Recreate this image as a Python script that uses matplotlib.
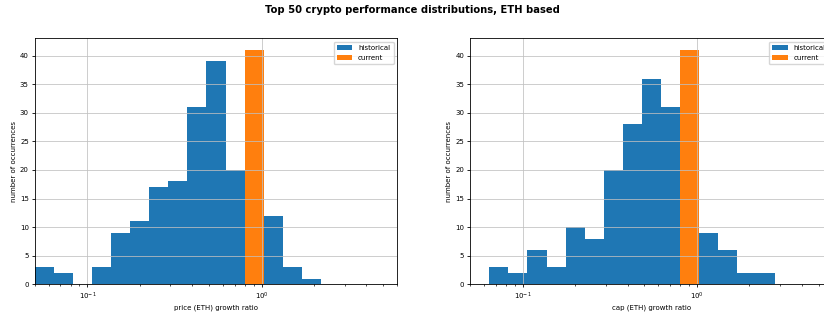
import numpy as np
import matplotlib
matplotlib.use('Agg')
import matplotlib.pyplot as plt

# log-spaced bin edges shared by both panels
bin_lo = 0.05
bin_hi = 6.0
n_bins = 19

# counts per bin
price_hist = [3, 2, 0, 3, 9, 11, 17, 18, 31, 39, 20, 0, 12, 3, 1, 0, 0, 0, 0]
cap_hist = [0, 3, 2, 6, 3, 10, 8, 20, 28, 36, 31, 0, 9, 6, 2, 2, 0, 0, 0]
# "current" bin (index 11) count
current_bin = 11
price_current = 41
cap_current = 41

panels = [('price (ETH) growth ratio', price_hist, price_current),
          ('cap (ETH) growth ratio', cap_hist, cap_current)]


def main():
    edges = np.logspace(np.log10(bin_lo), np.log10(bin_hi), n_bins + 1)
    centers = np.sqrt(edges[:-1] * edges[1:])

    plt.rcParams['font.size'] = 5
    fig = plt.figure(figsize=(8.24, 3.15), dpi=100)
    fig.suptitle('Top 50 crypto performance distributions, ETH based',
                 fontsize=7.2, fontweight='bold', y=0.985)

    lefts = [0.0425, 0.5708]
    for left, (xlabel, hist, cur) in zip(lefts, panels):
        ax = fig.add_axes([left, 0.0975, 0.4393, 0.781])
        ax.set_xscale('log')
        ax.hist(centers, bins=edges, weights=hist, color='#1f77b4',
                label='historical')
        cur_w = np.zeros(n_bins)
        cur_w[current_bin] = cur
        ax.hist(centers, bins=edges, weights=cur_w, color='#ff7f0e',
                label='current')
        ax.set_xlim(edges[0], edges[-1])
        ax.grid(True, color='#c0c0c0', linewidth=0.55)
        ax.set_xlabel(xlabel, labelpad=2)
        ax.set_ylabel('number of occurrences', labelpad=2)
        ax.tick_params(which='major', length=2.5, width=0.6, pad=2)
        ax.tick_params(which='minor', length=1.5, width=0.5)
        for s in ax.spines.values():
            s.set_linewidth(0.6)
        ax.legend(loc='upper right', fontsize=5, handlelength=2.2,
                  borderpad=0.5)

    fig.savefig('out.png', dpi=100)


if __name__ == '__main__':
    main()
